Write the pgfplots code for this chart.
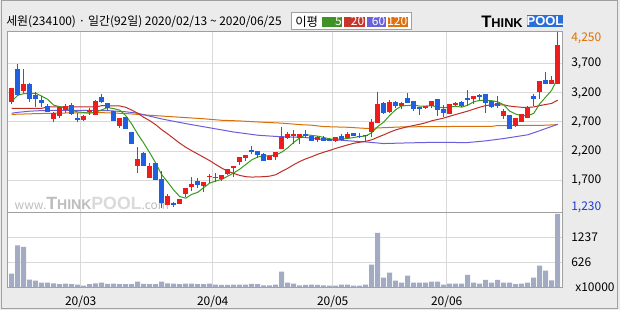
\documentclass[border=0pt]{standalone}
\usepackage{fontspec}
\setmainfont{Noto Sans CJK KR}
\newfontfamily\logofont{Liberation Sans}
\usepackage{pgfplots}
\usepackage{pgfplotstable}
\pgfplotsset{compat=1.18}
\definecolor{bgc}{HTML}{EBEBEB}
\definecolor{framec}{HTML}{A0A0A0}
\definecolor{gridc}{HTML}{D9D9D9}
\definecolor{upc}{HTML}{EE1C1C}
\definecolor{dnc}{HTML}{1F5FE0}
\definecolor{ma5c}{HTML}{3C9A1E}
\definecolor{ma20c}{HTML}{BE2E26}
\definecolor{ma60c}{HTML}{6A5FD8}
\definecolor{ma120c}{HTML}{D8700A}
\definecolor{volc}{HTML}{A3ABC3}
\definecolor{lg5}{HTML}{3F9226}
\definecolor{lg20}{HTML}{C8352A}
\definecolor{lg60}{HTML}{6A62D8}
\definecolor{lg120}{HTML}{E07010}
\definecolor{maxc}{HTML}{E07000}
\definecolor{minc}{HTML}{1E3CD0}
\definecolor{logoblue}{HTML}{2A6FD8}
\definecolor{wmc}{HTML}{BDBDBD}
\definecolor{wmc2}{HTML}{DADADA}
\newcommand\tickfont{\fontsize{9}{10}\selectfont}

\pgfplotstableread{
i O H L C V
0 3043 3290 3010 3276 341
1 3601 3687 3140 3156 1033
2 3225 3601 3196 3345 1000
3 3345 3367 3043 3094 194
4 3156 3208 2963 3094 169
5 3071 3139 2963 3025 121
6 2968 3003 2871 2877 121
7 2752 2866 2700 2849 104
8 2803 2963 2775 2963 80
9 2900 3003 2854 2968 96
10 2985 3020 2826 2843 80
11 2763 2849 2700 2735 72
12 2735 2820 2718 2809 47
13 2866 2940 2815 2900 80
14 2820 3077 2820 3054 104
15 3122 3179 3025 3037 121
16 3020 3020 2883 2934 88
17 2889 2889 2718 2718 96
18 2638 2775 2598 2775 80
19 2780 2780 2581 2581 80
20 2524 2524 2324 2324 80
21 1942 2273 1828 2068 145
22 2165 2190 1948 1948 88
23 1737 1999 1737 1942 80
24 1988 1999 1703 1703 80
25 1720 1863 1230 1315 145
26 1281 1464 1281 1435 104
27 1315 1333 1250 1270 96
28 1298 1384 1298 1384 80
29 1464 1566 1418 1566 96
30 1589 1760 1515 1635 96
31 1686 1737 1560 1617 80
32 1600 1669 1503 1669 80
33 1754 1806 1657 1771 96
34 1754 1828 1674 1737 72
35 1720 1788 1692 1788 64
36 1806 1885 1788 1885 64
37 1908 1942 1760 1942 72
38 2016 2096 1960 2096 72
39 2085 2136 2028 2136 72
40 2222 2296 2148 2193 88
41 2199 2199 2074 2130 80
42 2153 2165 2034 2034 55
43 2051 2119 2051 2119 55
44 2096 2182 2040 2182 72
45 2239 2615 2239 2444 389
46 2427 2530 2415 2501 121
47 2455 2558 2319 2501 96
48 2427 2501 2319 2501 55
49 2501 2558 2433 2467 64
50 2467 2467 2376 2376 72
51 2387 2467 2353 2444 64
52 2433 2467 2370 2381 55
53 2410 2433 2376 2376 47
54 2376 2444 2364 2438 47
55 2455 2490 2370 2398 72
56 2433 2530 2433 2490 72
57 2518 2518 2467 2467 47
58 2467 2512 2427 2455 47
59 2455 2478 2376 2478 72
60 2524 2757 2444 2695 561
61 2683 3208 2683 3003 1343
62 3020 3037 2843 2854 243
63 2866 3071 2854 3037 365
64 3037 3060 2946 2968 169
65 2968 3048 2917 3020 121
66 3105 3191 3025 3025 292
67 3054 3054 2889 2917 121
68 2951 2951 2820 2923 121
69 2940 2980 2928 2980 121
70 2974 3054 2940 3054 145
71 3088 3088 2803 2906 145
72 2917 2985 2786 2854 72
73 2832 3014 2832 3003 96
74 2991 3048 2968 3031 96
75 3043 3060 2963 2974 96
76 3105 3242 2980 3077 308
77 3088 3139 3014 3139 121
78 3162 3179 3077 3128 96
79 3174 3174 2854 3025 186
80 3054 3054 2946 2957 121
81 3020 3139 2946 2980 186
82 2797 2923 2757 2889 121
83 2814 2814 2581 2581 121
84 2638 2763 2615 2763 80
85 2695 2843 2695 2832 96
86 2763 2968 2763 2963 121
87 3139 3179 2980 3094 243
88 3213 3396 3088 3396 536
89 3413 3550 3350 3350 414
90 3356 3481 3356 3424 178
91 3350 4250 3350 4017 1807
}\ohlc

\pgfplotstableread{
i v
0 3054
1 3157
2 3185
3 3185
4 3193
5 3143
6 3087
7 2988
8 2962
9 2936
10 2900
11 2872
12 2864
13 2851
14 2868
15 2907
16 2947
17 2929
18 2904
19 2809
20 2666
21 2493
22 2339
23 2173
24 1997
25 1795
26 1669
27 1533
28 1421
29 1394
30 1458
31 1494
32 1574
33 1652
34 1686
35 1716
36 1770
37 1825
38 1890
39 1969
40 2050
41 2099
42 2118
43 2122
44 2132
45 2182
46 2256
47 2349
48 2426
49 2483
50 2469
51 2458
52 2434
53 2409
54 2403
55 2407
56 2417
57 2434
58 2450
59 2458
60 2517
61 2620
62 2697
63 2813
64 2911
65 2976
66 2981
67 2993
68 2971
69 2973
70 2980
71 2956
72 2943
73 2959
74 2970
75 2954
76 2988
77 3045
78 3070
79 3069
80 3065
81 3046
82 2996
83 2886
84 2834
85 2809
86 2806
87 2847
88 3010
89 3127
90 3245
91 3456
}\maA

\pgfplotstableread{
i v
0 2934
5 2934
6 2957
14 2957
15 2980
18 2975
19 2952
20 2904
21 2850
22 2780
23 2722
24 2653
25 2567
26 2495
27 2416
28 2337
29 2267
30 2207
31 2151
32 2094
33 2037
34 1971
35 1909
36 1857
37 1818
38 1784
39 1762
40 1755
41 1758
42 1762
43 1771
44 1795
45 1852
46 1905
47 1967
48 2022
49 2067
50 2104
51 2146
52 2181
53 2212
54 2247
55 2277
56 2307
57 2334
58 2352
59 2369
60 2394
61 2438
62 2479
63 2524
64 2564
65 2593
66 2619
67 2640
68 2661
69 2686
70 2720
71 2743
72 2767
73 2798
74 2828
75 2857
76 2886
77 2920
78 2953
79 2981
80 2994
81 2993
82 2994
83 2972
84 2961
85 2952
86 2949
87 2958
88 2981
89 3000
90 3018
91 3074
}\maB

\pgfplotstableread{
i v
0 2850
1 2865
2 2875
3 2885
5 2895
8 2900
12 2900
16 2895
19 2875
21 2850
23 2800
25 2752
29 2672
33 2600
37 2528
41 2473
44 2452
46 2444
49 2433
52 2400
55 2387
57 2370
59 2358
62 2330
66 2341
70 2350
76 2347
79 2376
82 2416
86 2480
88 2550
91 2660
}\maC

\pgfplotstableread{
i v
0 2830
4 2843
9 2854
15 2860
19 2845
23 2815
26 2795
29 2775
32 2755
35 2729
38 2718
41 2700
45 2680
48 2655
50 2644
52 2621
56 2609
59 2590
61 2598
65 2615
70 2621
80 2625
81 2638
89 2644
91 2655
}\maD

\pgfplotsset{chartax/.style={
  scale only axis, anchor=south west,
  width=416.25pt,
  xmin=-0.7, xmax=91.8,
  axis background/.style={fill=white},
  axis line style={draw=framec, line width=0.75pt},
  major tick length=0pt,
  xtick={11.5,33.5,53.5,72.5},
  xmajorgrids, ymajorgrids,
  grid style={draw=gridc, line width=0.75pt},
  yticklabel pos=right,
  yticklabel style={anchor=west, inner sep=0pt, xshift=6.4pt, font=\tickfont},
  xticklabel style={font=\tickfont},
  /pgf/number format/assume math mode=true,
}}

\begin{document}
\begin{tikzpicture}
\useasboundingbox (0,0) rectangle (465pt,232.5pt);
\begin{scope}[x=0.75pt,y=-0.75pt,yshift=232.5pt]
\fill[bgc] (0,0) rectangle (620,310);
\end{scope}

% price panel
\begin{axis}[chartax,
  at={(5.625pt,73.275pt)}, height=135.75pt,
  ymin=1151, ymax=4255,
  xticklabel={},
  ytick={1700,2200,2700,3200,3700},
  yticklabels={{1,700},{2,200},{2,700},{3,200},{3,700}},
  extra y ticks={1245,4132},
  extra y tick labels={{\textcolor{minc}{1,230}},{\textcolor{maxc}{4,250}}},
  extra y tick style={grid=none},
]
\node[inner sep=0pt, anchor=center] at (rel axis cs:0.152,0.05)
  {\textcolor{wmc}{\fontsize{9}{9}\selectfont www.}\textcolor{wmc}{\logofont\bfseries\fontsize{13.3}{13}\selectfont T\fontsize{10.5}{10}\selectfont HINK}\textcolor{wmc2}{\logofont\bfseries\fontsize{13.3}{13}\selectfont POOL}\textcolor{wmc}{\fontsize{9}{9}\selectfont .com}};
\addplot[ma120c, line width=0.75pt, mark=none] table[x=i,y=v]{\maD};
\addplot[ma60c, line width=0.75pt, mark=none] table[x=i,y=v]{\maC};
\addplot[ma20c, line width=0.75pt, mark=none] table[x=i,y=v]{\maB};
\addplot[ma5c, line width=0.75pt, mark=none] table[x=i,y=v]{\maA};
% up candles
\addplot[draw=none, mark=none, restrict expr to domain={\thisrow{C}-\thisrow{O}}{0:100000},
  error bars/.cd, y dir=plus, y explicit, error mark=none,
  error bar style={draw=upc, line width=0.75pt}]
  table[x=i, y=L, y error expr=\thisrow{H}-\thisrow{L}]{\ohlc};
\addplot[draw=none, mark=none, restrict expr to domain={\thisrow{C}-\thisrow{O}}{0:100000},
  error bars/.cd, y dir=plus, y explicit, error mark=none,
  error bar style={draw=upc, line width=3.75pt}]
  table[x=i, y=O, y error expr=\thisrow{C}-\thisrow{O}]{\ohlc};
% down candles
\addplot[draw=none, mark=none, restrict expr to domain={\thisrow{C}-\thisrow{O}}{-100000:-0.5},
  error bars/.cd, y dir=plus, y explicit, error mark=none,
  error bar style={draw=dnc, line width=0.75pt}]
  table[x=i, y=L, y error expr=\thisrow{H}-\thisrow{L}]{\ohlc};
\addplot[draw=none, mark=none, restrict expr to domain={\thisrow{C}-\thisrow{O}}{-100000:-0.5},
  error bars/.cd, y dir=plus, y explicit, error mark=none,
  error bar style={draw=dnc, line width=3.75pt}]
  table[x=i, y=C, y error expr=\thisrow{O}-\thisrow{C}]{\ohlc};
\end{axis}

% volume panel
\begin{axis}[chartax,
  at={(5.625pt,16.875pt)}, height=56.4pt,
  ymin=0, ymax=1848,
  xticklabels={20/03,20/04,20/05,20/06},
  xticklabel style={anchor=north, inner sep=0pt, yshift=-6pt},
  ytick={626,1237},
  yticklabels={626,1237},
  extra y ticks={0},
  extra y tick labels={x10000},
  extra y tick style={grid=none, yticklabel style={xshift=3pt}},
]
\addplot[ybar, bar width=3.75pt, fill=volc, draw=none] table[x=i,y=V]{\ohlc};
\end{axis}

\begin{scope}[x=0.75pt,y=-0.75pt,yshift=232.5pt]
\draw[framec, line width=0.75pt] (1,1) rectangle (617,308.5);
\node[anchor=west, inner sep=0pt] at (6,22) {\fontsize{8.95}{10}\selectfont 세원(234100) · 일간(92일) 2020/02/13 \textasciitilde{} 2020/06/25};
% legend
\draw[framec, fill=white, line width=0.75pt] (291.5,12.5) rectangle (411,29.5);
\node[anchor=west, inner sep=0pt] at (295,21.5) {\fontsize{9.3}{10}\selectfont 이평};
\fill[lg5] (321.7,16.7) rectangle (342.3,26.7);
\fill[lg20] (344.3,16.7) rectangle (365,26.7);
\fill[lg60] (366.7,16.7) rectangle (386,26.7);
\fill[lg120] (387.7,16.7) rectangle (407.7,26.7);
\node[anchor=east, inner sep=0pt, text=white] at (342,21.7) {\fontsize{9}{10}\selectfont 5};
\node[anchor=east, inner sep=0pt, text=white] at (364.5,21.7) {\fontsize{9}{10}\selectfont 20};
\node[anchor=east, inner sep=0pt, text=white] at (385.5,21.7) {\fontsize{9}{10}\selectfont 60};
\node[anchor=east, inner sep=0pt, text=white] at (407.5,21.7) {\fontsize{9}{10}\selectfont 120};
% logo
\node[anchor=south west, inner sep=0pt] at (481,27.3) {\logofont\bfseries\fontsize{12.5}{12}\selectfont T\fontsize{9.6}{10}\selectfont HINK};
\fill[logoblue] (526.7,15) rectangle (563.3,27.3);
\node[anchor=center, inner sep=0pt, text=white] at (545,21.2) {\logofont\bfseries\fontsize{9.75}{10}\selectfont POOL};
\end{scope}
\end{tikzpicture}
\end{document}
